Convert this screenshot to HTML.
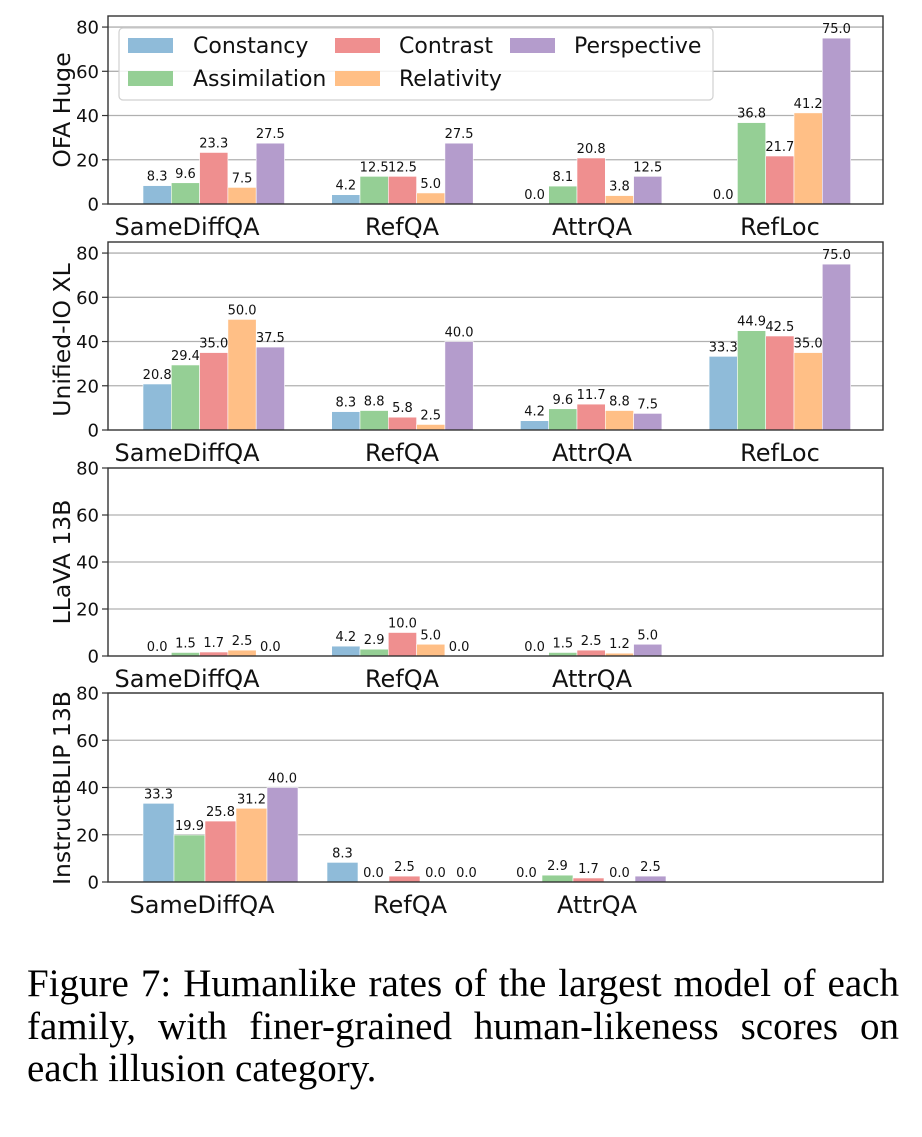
<!DOCTYPE html>
<html><head><meta charset="utf-8"><style>
body{margin:0;background:#fff;width:922px;height:1137px;overflow:hidden;}
svg{display:block;font-family:"DejaVu Sans","Liberation Sans",sans-serif;}
.cap{position:absolute;left:27px;top:963px;width:872px;font-family:"Liberation Serif",serif;font-size:39px;line-height:42.5px;color:#000;}
.cap div{white-space:nowrap;}
.cap .j{text-align:justify;text-align-last:justify;}
</style></head><body>
<svg id="chart" width="922" height="960"></svg>
<div class="cap"><div class="j">Figure 7: Humanlike rates of the largest model of each</div><div class="j">family, with finer-grained human-likeness scores on</div><div>each illusion category.</div></div>
<script>
const seriesNames = ["Constancy","Assimilation","Contrast","Relativity","Perspective"];
const models = ["OFA Huge","Unified-IO XL","LLaVA 13B","InstructBLIP 13B"];
const catsP1 = ["SameDiffQA","RefQA","AttrQA","RefLoc"];
const catsP2 = ["SameDiffQA","RefQA","AttrQA","RefLoc"];
const catsP3 = ["SameDiffQA","RefQA","AttrQA"];
const catsP4 = ["SameDiffQA","RefQA","AttrQA"];
const ofaValues = [[8.3,9.6,23.3,7.5,27.5],[4.2,12.5,12.5,5.0,27.5],[0.0,8.1,20.8,3.8,12.5],[0.0,36.8,21.7,41.2,75.0]];
const unifiedValues = [[20.8,29.4,35.0,50.0,37.5],[8.3,8.8,5.8,2.5,40.0],[4.2,9.6,11.7,8.8,7.5],[33.3,44.9,42.5,35.0,75.0]];
const llavaValues = [[0.0,1.5,1.7,2.5,0.0],[4.2,2.9,10.0,5.0,0.0],[0.0,1.5,2.5,1.2,5.0]];
const instructValues = [[33.3,19.9,25.8,31.2,40.0],[8.3,0.0,2.5,0.0,0.0],[0.0,2.9,1.7,0.0,2.5]];
const yTicks = [0,20,40,60,80];

const colors = ["#8fbbd9","#95cf95","#ef8f8f","#ffbf86","#b49ccc"];
const NS = "http://www.w3.org/2000/svg";
const svg = document.getElementById("chart");
function mk(tag, attrs, parent){const e=document.createElementNS(NS,tag);for(const k in attrs)e.setAttribute(k,attrs[k]);(parent||svg).appendChild(e);return e;}

const panels = [
 {cats:catsP1, vals:ofaValues, top:16, base:204, ymax:85, start:143, step:188.7, bw:28.3, labelX:[187,402,592,780], ylabY:110},
 {cats:catsP2, vals:unifiedValues, top:242, base:430, ymax:85, start:143, step:188.7, bw:28.3, labelX:[187,402,592,780], ylabY:340},
 {cats:catsP3, vals:llavaValues, top:468, base:656, ymax:80, start:143, step:188.7, bw:28.3, labelX:[187,402,592], ylabY:562},
 {cats:catsP4, vals:instructValues, top:693, base:882, ymax:80, start:143, step:184, bw:31, labelX:[202,410,597], ylabY:788}
];
const L=108, R=883;
panels.forEach((p,pi)=>{
  const g = mk("g",{});
  
  
  const y = v => p.base - v/p.ymax*(p.base-p.top);
  yTicks.forEach(t=>{
    if(t>0){const gl=mk("line",{x1:L,x2:R,y1:y(t),y2:y(t),stroke:"#b0b0b0","stroke-width":1.3},g);
      
      }
    mk("line",{x1:L-6,x2:L,y1:y(t),y2:y(t),stroke:"#333","stroke-width":1.2},g);
    const tl=mk("text",{x:L-9,y:y(t)+6.5,"text-anchor":"end","font-size":18,fill:"#111"},g);
    tl.textContent=t;
    
    
  });
  p.vals.forEach((grp,ci)=>{
    grp.forEach((v,si)=>{
      const x = p.start + ci*p.step + si*p.bw;
      if(v>0){const b=mk("rect",{x:x,y:y(v),width:p.bw,height:p.base-y(v),fill:colors[si],stroke:"#fff","stroke-width":0.6},g);
        
        }
      const t=mk("text",{x:x+p.bw/2,y:y(v)-5,"text-anchor":"middle","font-size":13,fill:"#111"},g);
      t.textContent=v.toFixed(1);
      
      
    });
  });
  p.cats.forEach((c,ci)=>{
    const t=mk("text",{x:p.labelX[ci],y:p.base+31,"text-anchor":"middle","font-size":24,fill:"#111"},g);
    t.textContent=c;
    
    
  });
  const fr=mk("rect",{x:L,y:p.top,width:R-L,height:p.base-p.top,fill:"none",stroke:"#333","stroke-width":1.4},g);
  
  
  const yl=mk("text",{x:0,y:0,"text-anchor":"middle","font-size":23.5,fill:"#111",transform:`translate(70,${p.ylabY}) rotate(-90)`},g);
  yl.textContent=models[pi];
  
  
});
// legend
const lg=mk("g",{});


mk("rect",{x:119,y:28,width:594,height:72,rx:4,fill:"#fff","fill-opacity":0.85,stroke:"#d0d0d0","stroke-width":1.2},lg);
const legPos=[[128,38,193],[128,71,193],[335,38,399],[335,71,399],[510,38,574]];
seriesNames.forEach((n,i)=>{
  const [px,py,tx]=legPos[i];
  const e=mk("g",{},lg);
  
  
  mk("rect",{x:px,y:py,width:45,height:15,fill:colors[i]},e);
  const t=mk("text",{x:tx,y:py+15,"font-size":22,fill:"#111"},e);
  t.textContent=n;
});
</script>
</body></html>
